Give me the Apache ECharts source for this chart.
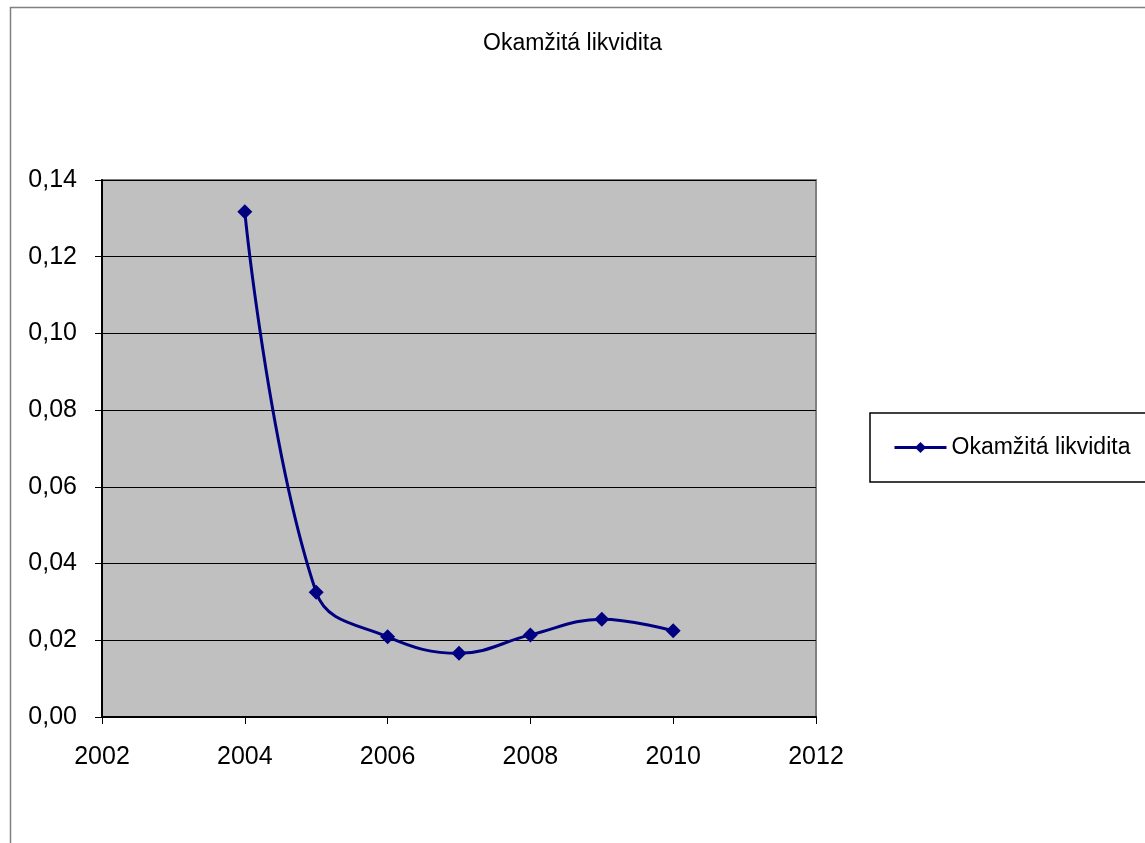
<!DOCTYPE html>
<html>
<head>
<meta charset="utf-8">
<script src="https://cdn.jsdelivr.net/npm/echarts@6/dist/echarts.min.js"></script>
<style>
  html, body { margin: 0; padding: 0; background: #fff; }
  #chart { width: 1145px; height: 843px; }
</style>
</head>
<body>
<div id="chart"></div>
<script>
// data
var years = [2004, 2005, 2006, 2007, 2008, 2009, 2010]
var likvidita = [0.1317, 0.0325, 0.0209, 0.0166, 0.0214, 0.0255, 0.0225]
var seriesName = 'Okamžitá likvidita'
var titleText = 'Okamžitá likvidita'

var chartDom = document.getElementById('chart')
var myChart = echarts.init(chartDom)
var font = 'Liberation Sans, Arial, sans-serif'

var option = {
  animation: false,
  textStyle: { fontFamily: font },
  title: {
    text: titleText,
    left: 'center',
    top: 27,
    textStyle: { fontFamily: font, fontSize: 23, fontWeight: 'normal', color: '#000' }
  },
  graphic: [
    {
      type: 'rect',
      left: 8,
      top: 5,
      shape: { width: 1200, height: 900 },
      style: { fill: 'none', stroke: '#808080', lineWidth: 1.5 },
      silent: true
    }
  ],
  legend: {
    left: 870,
    top: 413,
    orient: 'vertical',
    padding: [23, 40, 23, 23],
    borderColor: '#000',
    borderWidth: 1.5,
    itemWidth: 52,
    itemHeight: 14,
    itemGap: 7,
    lineStyle: { width: 3 },
    textStyle: { fontFamily: font, fontSize: 23, color: '#000' },
    data: [seriesName]
  },
  grid: {
    left: 102,
    top: 180,
    width: 714,
    height: 537,
    show: true,
    backgroundColor: '#C0C0C0',
    borderColor: '#808080',
    borderWidth: 2
  },
  xAxis: {
    type: 'value',
    min: 2002,
    max: 2012,
    interval: 2,
    axisLine: { show: true, onZero: false, lineStyle: { color: '#000', width: 2 } },
    axisTick: { show: true, length: 7, lineStyle: { color: '#000', width: 1 } },
    axisLabel: {
      fontSize: 25,
      color: '#000',
      margin: 28,
      fontFamily: font,
      formatter: function (v) { return String(v) }
    },
    splitLine: { show: false }
  },
  yAxis: {
    type: 'value',
    min: 0,
    max: 0.14,
    interval: 0.02,
    axisLine: { show: true, lineStyle: { color: '#000', width: 2 } },
    axisTick: { show: true, length: 7, lineStyle: { color: '#000', width: 1 } },
    axisLabel: {
      fontSize: 25,
      color: '#000',
      margin: 25,
      fontFamily: font,
      formatter: function (v) { return v.toFixed(2).replace('.', ',') }
    },
    splitLine: { show: true, lineStyle: { color: '#000', width: 1 } }
  },
  series: [
    {
      name: seriesName,
      type: 'line',
      smooth: 0.4,
      symbol: 'diamond',
      symbolSize: 15,
      itemStyle: { color: '#000080' },
      lineStyle: { color: '#000080', width: 3 },
      data: years.map(function (y, i) { return [y, likvidita[i]] })
    }
  ]
}

option && myChart.setOption(option)
window.onresize = () => {
  myChart.resize()
}
</script>
</body>
</html>
